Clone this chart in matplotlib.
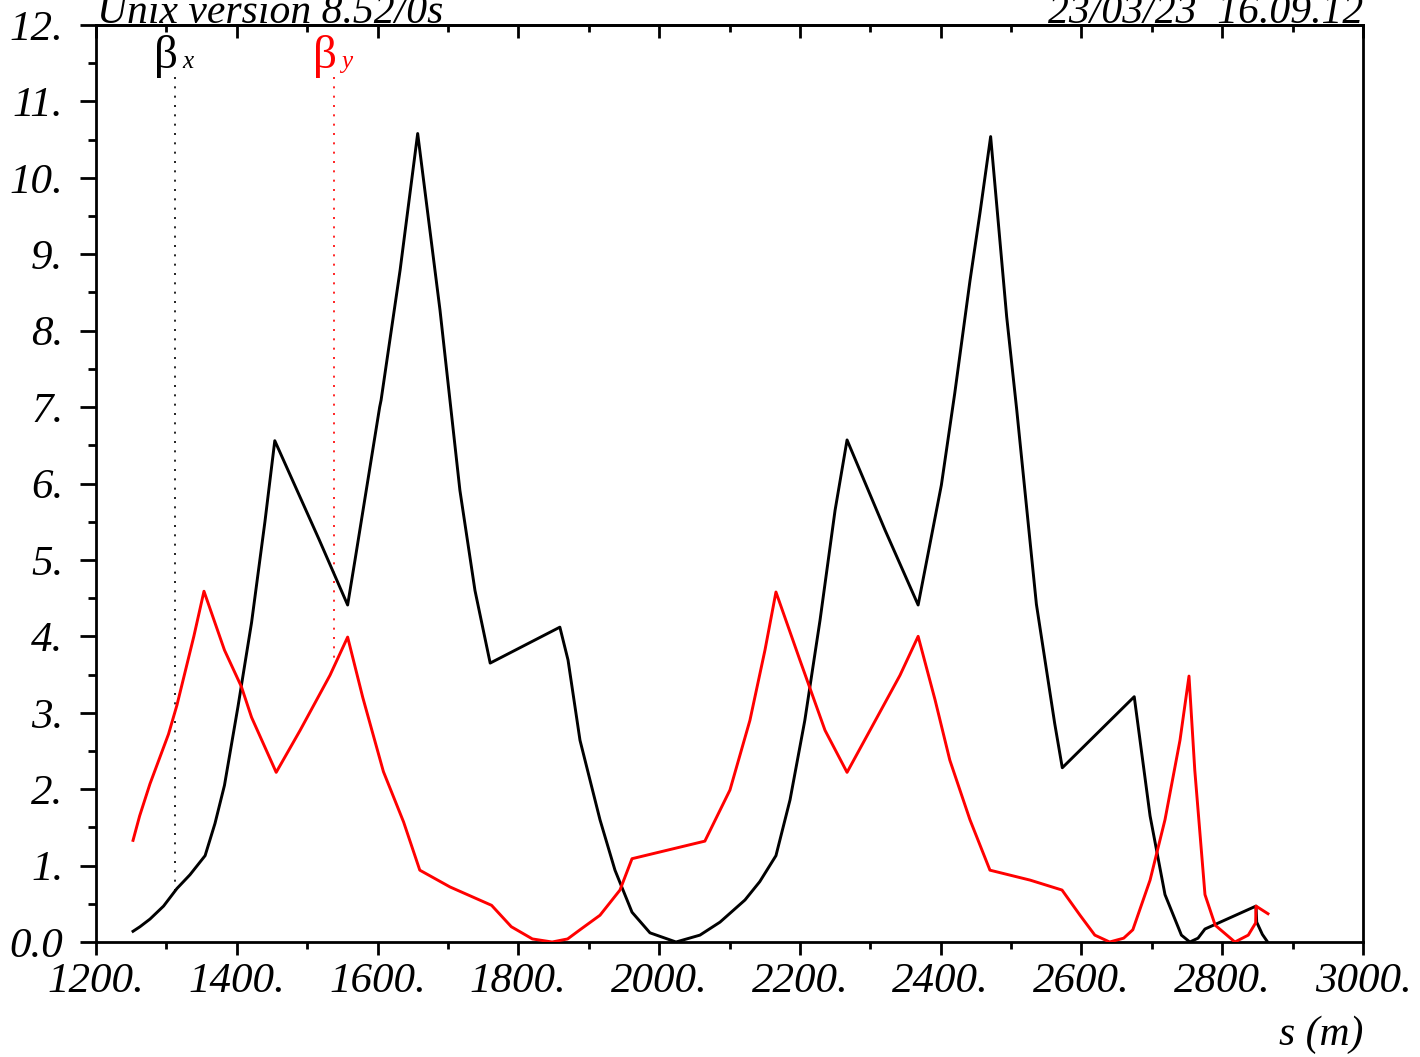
import numpy as np
import matplotlib.pyplot as plt
from matplotlib.ticker import MultipleLocator, FuncFormatter

# beta_x (black)
s_x = [1252.6, 1262.5, 1276.7, 1296, 1315, 1333.5, 1355, 1369, 1382.5, 1401.7, 1421,
       1440, 1454, 1516.8, 1557.5, 1568, 1603, 1605, 1632, 1657, 1688.7, 1717,
       1738.4, 1760, 1859, 1870.6, 1887.6, 1916, 1937.3, 1961.5, 1987, 2024, 2058,
       2086.5, 2122, 2143, 2166, 2186, 2207, 2228.6, 2250, 2267, 2321, 2368, 2401,
       2420, 2441.6, 2456, 2471, 2493.8, 2508, 2536, 2562, 2572.8, 2675, 2697.5,
       2718.7, 2742, 2754, 2765.6, 2775.5, 2848, 2849, 2857, 2864.5]
beta_x = [0.14, 0.20, 0.30, 0.47, 0.70, 0.88, 1.13, 1.55, 2.05, 3.08, 4.18,
          5.50, 6.56, 5.27, 4.41, 5.00, 7.00, 7.09, 8.79, 10.58, 8.27, 5.91,
          4.60, 3.65, 4.12, 3.69, 2.64, 1.60, 0.94, 0.39, 0.12, 0.00, 0.09,
          0.26, 0.55, 0.79, 1.13, 1.86, 2.90, 4.21, 5.65, 6.57, 5.39, 4.41, 5.98,
          7.18, 8.65, 9.55, 10.54, 8.18, 6.97, 4.42, 2.86, 2.28, 3.21, 1.65,
          0.62, 0.09, 0.00, 0.05, 0.17, 0.47, 0.26, 0.10, 0.00]

# beta_y (red)
s_y = [1252.6, 1262, 1276.7, 1303, 1315, 1339, 1353.4, 1382.5, 1406.6, 1421, 1456,
       1490, 1532.4, 1557.5, 1579, 1608.3, 1637, 1660, 1703, 1762, 1790, 1820,
       1848, 1870, 1887.6, 1916, 1944.4, 1961.5, 2065, 2100.7, 2129, 2150.4, 2166,
       2200, 2235.7, 2267, 2299.6, 2342.2, 2368, 2392, 2413, 2441.6, 2470, 2527,
       2572.4, 2598, 2619, 2640, 2660, 2673, 2697.5, 2718.7, 2740, 2752.8, 2761,
       2775.5, 2790, 2818, 2837, 2847.5, 2848, 2865]
beta_y = [1.33, 1.65, 2.07, 2.72, 3.10, 4.00, 4.59, 3.82, 3.34, 2.94, 2.22,
          2.77, 3.49, 3.99, 3.20, 2.23, 1.57, 0.94, 0.72, 0.48, 0.20, 0.04,
          0.00, 0.04, 0.16, 0.35, 0.68, 1.09, 1.32, 1.99, 2.90, 3.82, 4.58,
          3.69, 2.77, 2.22, 2.77, 3.49, 4.00, 3.17, 2.38, 1.60, 0.94, 0.81,
          0.68, 0.35, 0.09, 0.00, 0.05, 0.16, 0.81, 1.60, 2.64, 3.48, 2.25,
          0.62, 0.22, 0.00, 0.09, 0.25, 0.47, 0.37]

marker_x = 1312.0
marker_y = 1538.0

serif = 'Liberation Serif'
fig = plt.figure(figsize=(14.2, 10.57), dpi=100)
ax = fig.add_axes([96 / 1420, 1 - 942 / 1057, (1363 - 96) / 1420, (942 - 25) / 1057])

ax.plot(s_x, beta_x, color='black', lw=2.1, zorder=3)
ax.plot(s_y, beta_y, color='red', lw=2.1, zorder=4)

# marker lines under the labels
for s0, ss, bb, col, sub in [(marker_x, s_x, beta_x, 'black', 'x'),
                             (marker_y, s_y, beta_y, 'red', 'y')]:
    ax.plot([s0, s0], [np.interp(s0, ss, bb), 11.38], color=col, lw=1.2,
            linestyle=(0, (1.2, 4.4)), zorder=2)
    ax.annotate('β', xy=(s0, 11.4), xytext=(3, 3), textcoords='offset pixels',
                ha='right', va='baseline', fontsize=34, color=col, family=serif)
    ax.annotate(sub, xy=(s0, 11.4), xytext=(7, 3), textcoords='offset pixels',
                ha='left', va='baseline', fontsize=18, color=col, family=serif,
                style='italic')

ax.set_xlim(1200, 3000)
ax.set_ylim(0, 12)

ax.xaxis.set_major_locator(MultipleLocator(200))
ax.xaxis.set_minor_locator(MultipleLocator(100))
ax.yaxis.set_major_locator(MultipleLocator(1))
ax.yaxis.set_minor_locator(MultipleLocator(0.5))
ax.xaxis.set_major_formatter(FuncFormatter(lambda v, p: '%d.' % v))
ax.yaxis.set_major_formatter(FuncFormatter(lambda v, p: '0.0' if v == 0 else '%d.' % v))

for sp in ax.spines.values():
    sp.set_linewidth(2.0)

ax.tick_params(axis='y', which='major', direction='out', length=11.5, width=2,
               left=True, right=False, pad=12, labelsize=31)
ax.tick_params(axis='y', which='minor', direction='out', length=6, width=2,
               left=True, right=False)
ax.tick_params(axis='x', which='major', direction='out', length=9, width=2,
               bottom=True, top=False, pad=6, labelsize=31)
ax.tick_params(axis='x', which='minor', direction='out', length=5, width=2,
               bottom=True, top=False)
for lab in ax.get_xticklabels() + ax.get_yticklabels():
    lab.set_family(serif)
    lab.set_style('italic')

# inward ticks along the top edge
top = ax.secondary_xaxis('top')
top.xaxis.set_major_locator(MultipleLocator(200))
top.xaxis.set_minor_locator(MultipleLocator(100))
top.tick_params(which='major', direction='in', length=9, width=2, labeltop=False)
top.tick_params(which='minor', direction='in', length=5, width=2)
top.spines['top'].set_linewidth(2.0)

fig.text(1363 / 1420, 1 - 1035 / 1057, 's (m)', ha='right', va='center',
         fontsize=30, family=serif, style='italic')
fig.text(97 / 1420, 1 - 23 / 1057, 'Unix version 8.52/0s', ha='left', va='baseline',
         fontsize=30, family=serif, style='italic')
fig.text(1363 / 1420, 1 - 23 / 1057, '23/03/23  16.09.12', ha='right', va='baseline',
         fontsize=30, family=serif, style='italic')

fig.savefig('out.png', dpi=100)
